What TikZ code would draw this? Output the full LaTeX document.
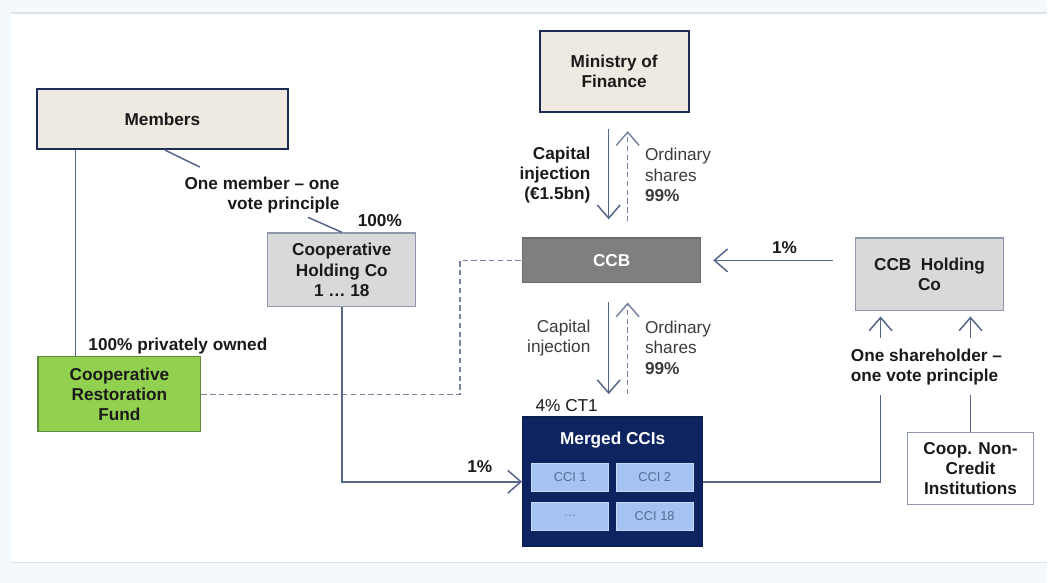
\documentclass[tikz,border=0pt]{standalone}
\usepackage{fontspec}
\setmainfont{Liberation Sans}
\usepackage{tikz}
\usetikzlibrary{arrows.meta, positioning}
\definecolor{pagebg}{HTML}{F4F9FD}
\definecolor{rulegray}{HTML}{DCE2E6}
\definecolor{beige}{HTML}{EEE9E1}
\definecolor{navyline}{HTML}{1C2C55}
\definecolor{boxgray}{HTML}{D9D9D9}
\definecolor{boxline}{HTML}{8E98AA}
\definecolor{ccbgray}{HTML}{7F7F7F}
\definecolor{navyfill}{HTML}{0D2461}
\definecolor{cciblue}{HTML}{A4C2F2}
\definecolor{ccitext}{HTML}{566C96}
\definecolor{fundgreen}{HTML}{92D050}
\definecolor{fundline}{HTML}{5E8C3C}
\definecolor{linkcol}{HTML}{56668A}
\definecolor{txt}{HTML}{1A1A1A}

\begin{document}
\begin{tikzpicture}[x=0.02cm, y=-0.02cm,
    font=\fontsize{9.8}{11.5}\selectfont, text=txt,
    >={Straight Barb[length=7.5pt, width=13pt]},
    link/.style={draw=linkcol, line width=0.85pt},
    dashlink/.style={draw=linkcol!80, line width=0.85pt, dash pattern=on 3pt off 2pt},
    ownerbox/.style={draw=navyline, line width=1.3pt, fill=beige, font=\fontsize{9.8}{11.5}\selectfont\bfseries, align=center, inner sep=0pt},
    holdbox/.style={draw=boxline, line width=0.7pt, fill=boxgray, font=\fontsize{9.8}{11.5}\selectfont\bfseries, align=center, inner sep=0pt},
    ccibox/.style={draw=cciblue!60!white, line width=0.6pt, fill=cciblue, text=ccitext, font=\fontsize{7.3}{8}\selectfont, minimum width=1.54cm, minimum height=0.56cm, inner sep=0pt},
    lbl/.style={font=\fontsize{9.8}{11.5}\selectfont\bfseries, inner sep=0pt}]

  % page and frame
  \fill[pagebg] (0,0) rectangle (1048,583);
  \fill[white] (11,13) rectangle (1048,563);
  \draw[rulegray, line width=0.6pt] (11,13) -- (1048,13);
  \draw[rulegray, line width=0.6pt] (11,563) -- (1048,563);

  % boxes
  \node[ownerbox, minimum width=5.02cm, minimum height=1.2cm] (members) at (162.5,119) {Members};
  \node[ownerbox, minimum width=2.98cm, minimum height=1.62cm] (mof) at (614.5,71.5) {Ministry of\\Finance};
  \node[holdbox, minimum width=2.96cm, minimum height=1.48cm] (coophold) at (342,270) {Cooperative\\Holding Co\\1 \dots\ 18};
  \node[draw=fundline, line width=0.7pt, fill=fundgreen, font=\fontsize{9.8}{11.5}\selectfont\bfseries, align=center, inner sep=0pt,
        minimum width=3.26cm, minimum height=1.5cm] (fund) at (119.5,394.5) {Cooperative\\Restoration\\Fund};
  \node[draw=ccbgray!85!black, line width=0.7pt, fill=ccbgray, text=white, font=\fontsize{9.8}{11.5}\selectfont\bfseries,
        minimum width=3.56cm, minimum height=0.9cm, inner sep=0pt] (ccb) at (612,260.5) {CCB};
  \node[holdbox, minimum width=2.96cm, minimum height=1.46cm] (ccbhold) at (930,274.5) {CCB\ \ Holding\\Co};
  \node[draw=boxline, line width=0.7pt, fill=white, font=\fontsize{9.8}{11.5}\selectfont\bfseries, align=center, inner sep=0pt,
        minimum width=2.52cm, minimum height=1.44cm] (noncredit) at (971,469) {Coop. Non-\\Credit\\Institutions};

  % merged CCIs
  \node[draw=navyfill!80!black, line width=0.8pt, fill=navyfill, minimum width=3.6cm, minimum height=2.6cm] (merged) at (613,482) {};
  \node[lbl, text=white] (mergedtitle) at (613,440) {Merged CCIs};
  \node[ccibox] (cci1) at (570.5,477.5) {CCI 1};
  \node[ccibox] (cci2) at (655,477.5) {CCI 2};
  \node[ccibox, text=ccitext!70!cciblue] (ccidots) at (570.5,516.5) {\dots};
  \node[ccibox] (cci18) at (655,516.5) {CCI 18};

  % labels
  \node[lbl, align=right, anchor=east] (vote1) at (340,195) {One member -- one\\vote principle};
  \node[lbl] (pct100) at (380,221) {100\%};
  \node[lbl] (private) at (178,346) {100\% privately owned};
  \node[lbl, align=right, anchor=east] (capinj1) at (591,175) {Capital\\injection\\(€1.5bn)};
  \node[align=left, anchor=west, inner sep=0pt, text=txt!85!white] (ord1) at (645,175) {Ordinary\\shares\\\textbf{99\%}};
  \node[align=right, anchor=east, inner sep=0pt, text=txt!85!white] (capinj2) at (591,338) {Capital\\injection};
  \node[align=left, anchor=west, inner sep=0pt, text=txt!85!white] (ord2) at (645,348) {Ordinary\\shares\\\textbf{99\%}};
  \node[inner sep=0pt] (ct1) at (567,406) {4\% CT1};
  \node[lbl] (pct1a) at (480,467) {1\%};
  \node[lbl] (pct1b) at (785,248) {1\%};
  \node[lbl, align=left, anchor=west] (vote2) at (851,367) {One shareholder --\\one vote principle};

  % members side
  \draw[link] ([xshift=0.76cm]fund.north west) -- ([xshift=0.76cm]fund.north west |- members.south);
  \draw[link] (members.south) ++(2.5,0) -- ++(35,17);
  \draw[link] (coophold.north) -- ++(-34,-15);
  \draw[link, ->] (coophold.south) |- (merged.west);
  \draw[dashlink] (fund.east) -| ([xshift=-1.24cm]ccb.west) -- (ccb.west);

  % government flows
  \draw[link, ->, shorten <=0.32cm, shorten >=0.36cm] ([xshift=-0.11cm]mof.south) -- ([xshift=-0.11cm]mof.south |- ccb.north);
  \draw[dashlink, ->, shorten <=0.32cm, shorten >=0.36cm] ([xshift=0.27cm]mof.south |- ccb.north) -- ([xshift=0.27cm]mof.south);
  \draw[link, ->, shorten <=0.38cm, shorten >=0.44cm] ([xshift=-0.11cm]mof.south |- ccb.south) -- ([xshift=-0.11cm]mof.south |- merged.north);
  \draw[dashlink, ->, shorten <=0.44cm, shorten >=0.38cm] ([xshift=0.27cm]mof.south |- merged.north) -- ([xshift=0.27cm]mof.south |- ccb.south);

  % CCB holding side
  \draw[link, ->, shorten >=0.24cm] ([xshift=-0.44cm]ccbhold.west |- ccb.east) -- (ccb.east);
  \coordinate (join1) at (881,395);
  \coordinate (join2) at (971,395);
  \draw[link] (merged.east) -| (join1);
  \draw[link] (noncredit.north) -- (join2);
  \draw[link, <-, shorten <=0.1cm] ([xshift=-0.98cm]ccbhold.south) -- ++(0,27);
  \draw[link, <-, shorten <=0.1cm] ([xshift=0.82cm]ccbhold.south) -- ++(0,27);
\end{tikzpicture}
\end{document}
